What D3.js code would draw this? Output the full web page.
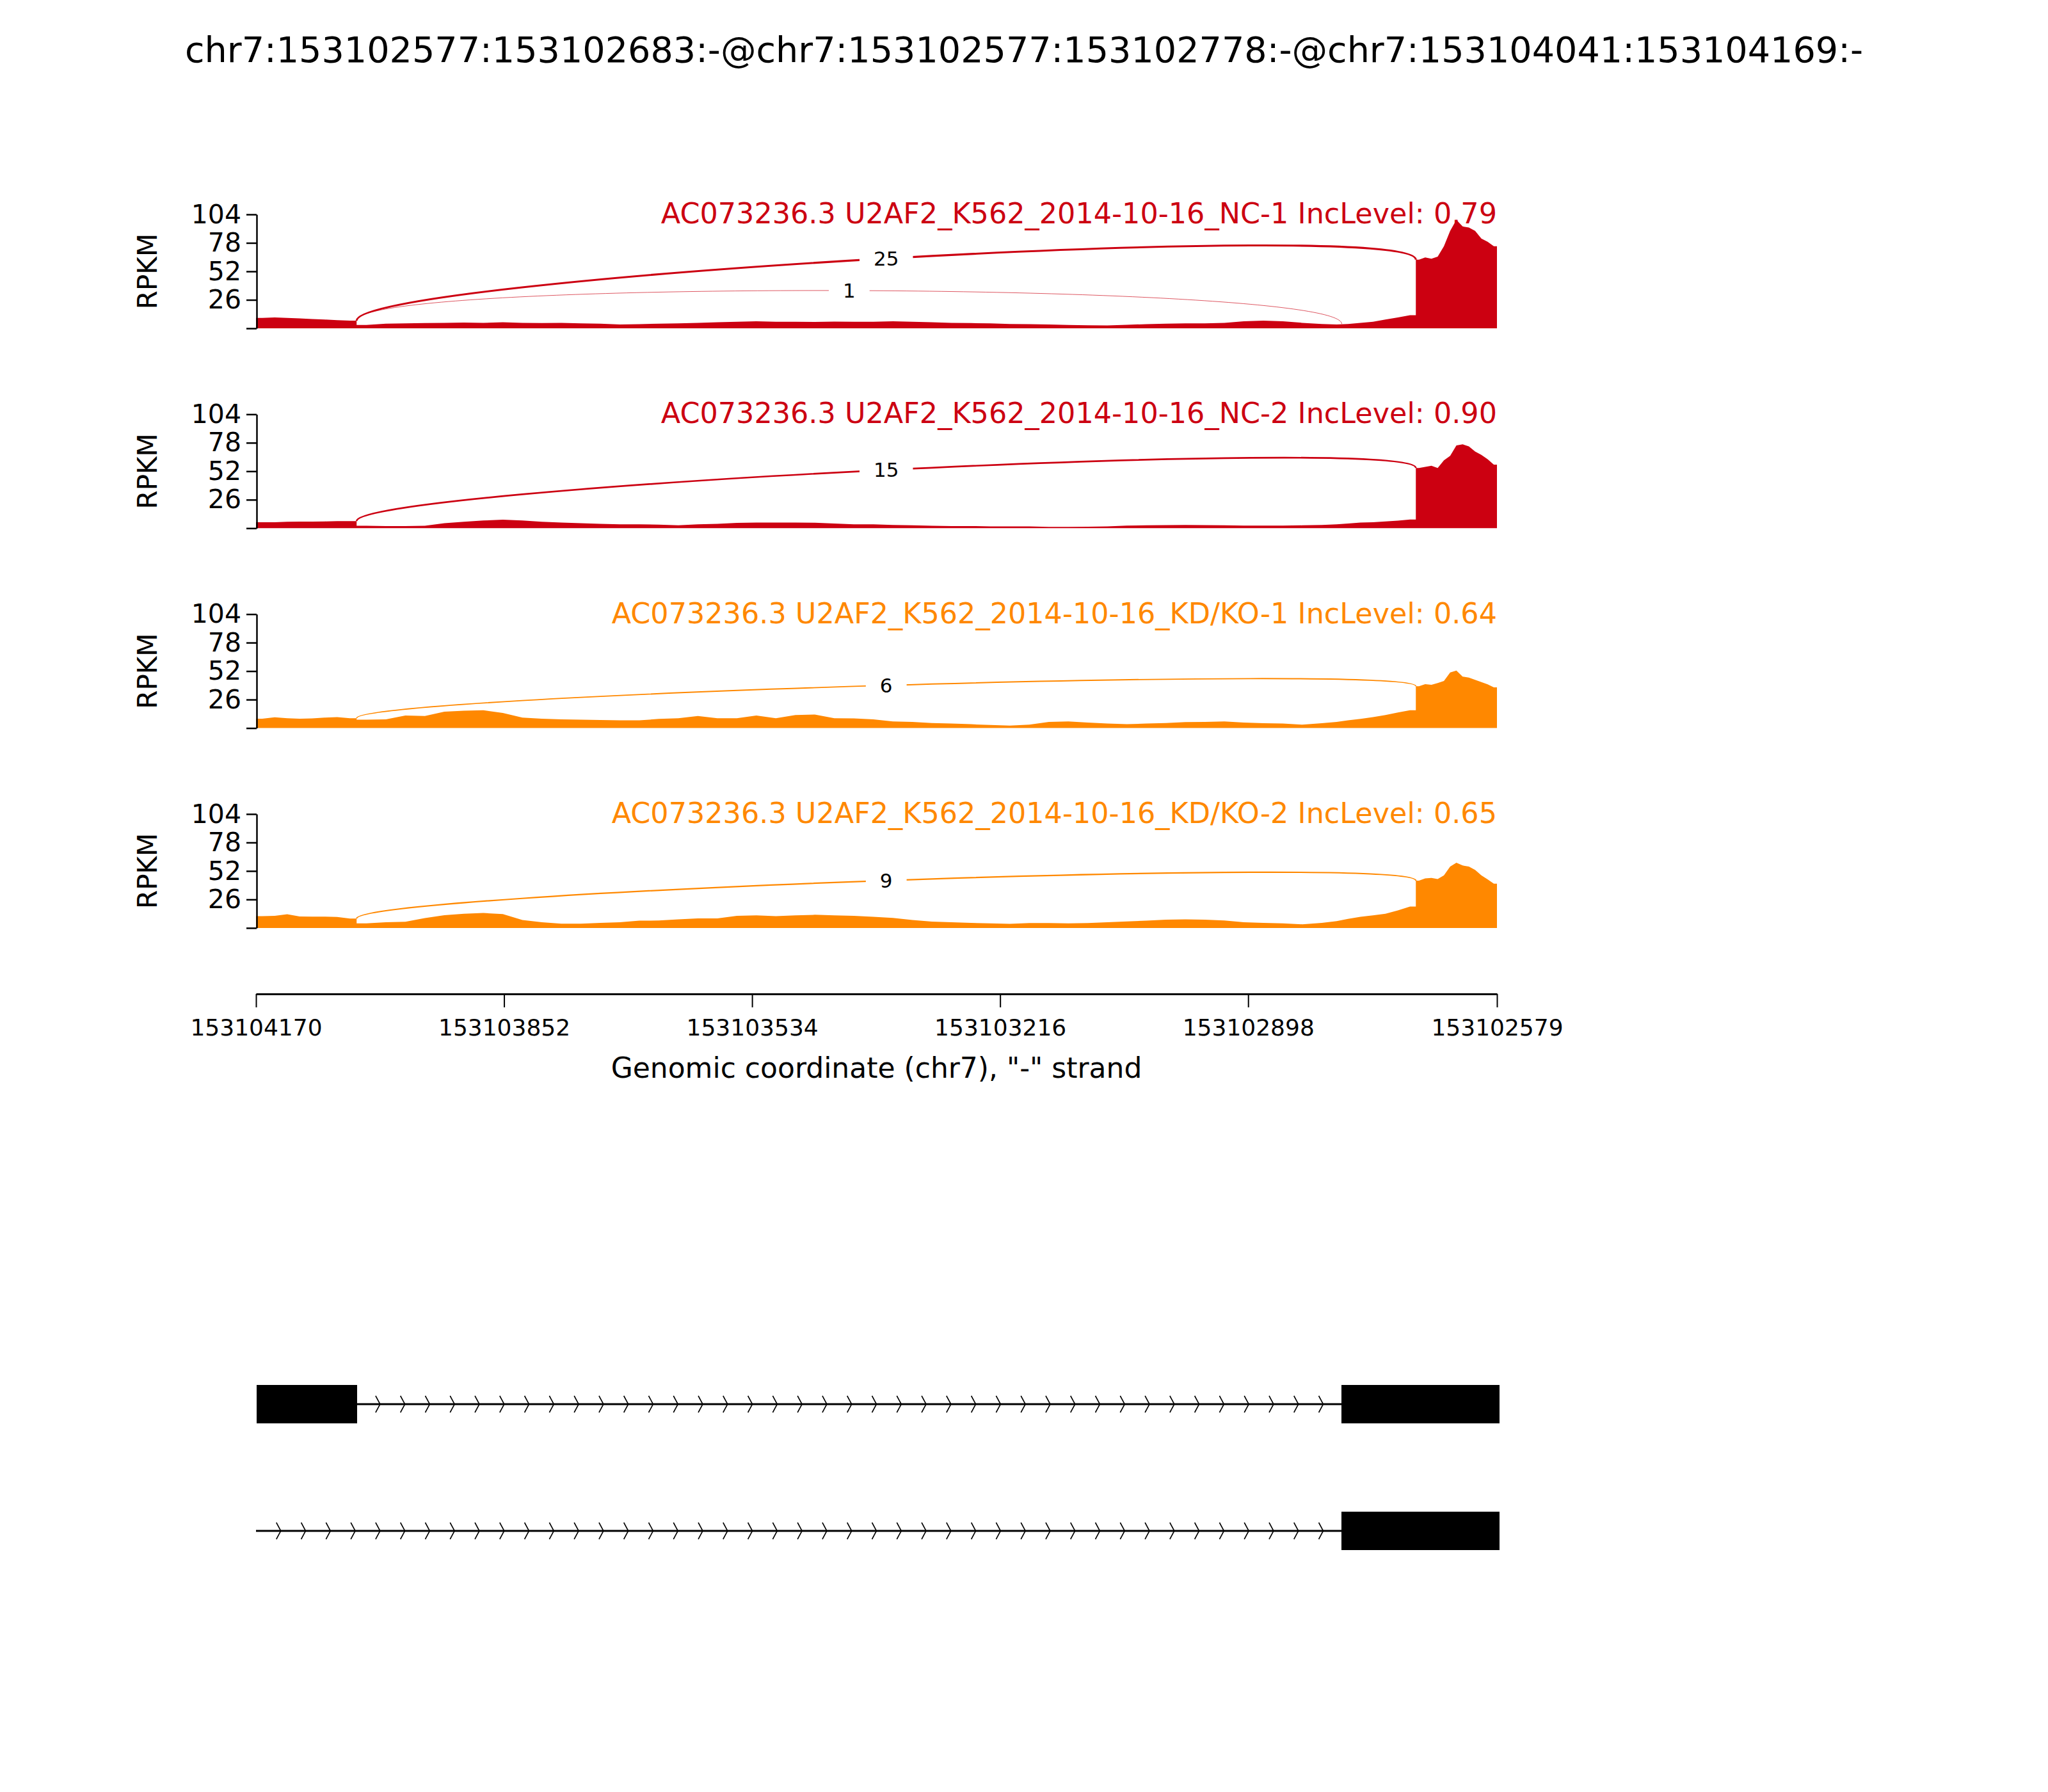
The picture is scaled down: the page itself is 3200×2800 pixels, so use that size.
<!DOCTYPE html>
<html>
<head>
<meta charset="utf-8">
<script src="https://cdn.jsdelivr.net/npm/d3@7"></script>
<style>
  body { margin: 0; background: #fff; }
  text { font-family: "DejaVu Sans", sans-serif; }
</style>
</head>
<body>
<svg id="fig" width="3200" height="2800"></svg>
<script>
'use strict';

const title = 'chr7:153102577:153102683:-@chr7:153102577:153102778:-@chr7:153104041:153104169:-';
const gene_name = 'AC073236.3';
const sample_names = [
  'U2AF2_K562_2014-10-16_NC-1',
  'U2AF2_K562_2014-10-16_NC-2',
  'U2AF2_K562_2014-10-16_KD/KO-1',
  'U2AF2_K562_2014-10-16_KD/KO-2'
];
const inc_levels = ['0.79', '0.90', '0.64', '0.65'];
const sample_colors = ['#CC0011', '#CC0011', '#FF8800', '#FF8800'];

const region_start = 153104170;   // left end of the plot (minus strand)
const region_end = 153102579;
const x_ticks = [153104170, 153103852, 153103534, 153103216, 153102898, 153102579];
const y_ticks = [0, 26, 52, 78, 104];

// coverage bins: offset in bp from region_start
const cov_offsets = [
  0, 16, 32, 48, 64, 80, 96, 112,
  129, 154, 179, 204, 229, 254, 279, 304, 329, 354,
  379, 404, 429, 454, 479, 504, 529, 554, 579, 604,
  629, 654, 679, 704, 729, 754, 779, 804, 829, 854,
  879, 904, 929, 954, 979, 1004, 1029, 1054, 1079, 1104,
  1129, 1154, 1179, 1204, 1229, 1254, 1279, 1304, 1329, 1354,
  1379,
  1392, 1408, 1424, 1440, 1456, 1472,
  1487, 1495, 1503, 1511, 1519, 1527, 1535, 1543, 1551, 1559, 1567, 1575, 1583,
  1591
];
// exon edges where coverage jumps (offsets)
const cov_breaks = [129, 1487];

const cov_nc1 = [
  9.5, 10, 9.5, 9, 8.5, 8, 7.5, 7,
  3, 4.2, 4.5, 4.8, 5, 5.2, 5, 5.5, 5, 4.8,
  5, 4.5, 4.2, 3.5, 3.8, 4.2, 4.5, 5, 5.5, 6,
  6.5, 6, 6, 5.8, 6.2, 6, 6, 6.5, 6, 5.5,
  5, 4.8, 4.5, 4, 3.8, 3.5, 3, 2.8, 2.6, 3.2,
  3.8, 4.2, 4.5, 4.5, 5, 6.5, 7, 6.5, 5, 4,
  3.5,
  4, 5, 6, 8, 10, 12,
  62.6, 64.7, 63.6, 65.5, 75, 89, 99, 93, 92, 89, 82, 79, 75
];
const cov_nc2 = [
  5.5, 5.5, 5.8, 6, 6, 6.2, 6.5, 6.5,
  2.2, 2, 2, 2.2, 4.5, 5.9, 7, 7.8, 7, 5.9,
  5.1, 4.5, 4, 3.6, 3.6, 3.2, 2.6, 3.6, 4, 4.8,
  5.2, 5.2, 5.2, 5, 4.2, 3.6, 3.6, 3, 2.6, 2.2,
  2, 2, 1.6, 1.6, 1.6, 1.2, 1.2, 1.4, 1.6, 2.4,
  2.6, 2.8, 3, 2.8, 2.6, 2.4, 2.4, 2.4, 2.6, 3,
  3.6,
  4.3, 5.2, 5.5, 6.2, 6.9, 7.9,
  55, 56, 57, 55, 61.9, 66, 75.6, 76.6, 74.6, 70, 67, 63, 58
];
const cov_kd1 = [
  8.5, 9.8, 9, 8.5, 8.8, 9.5, 10, 9,
  7.6, 8, 11.5, 11, 15, 15.8, 16.3, 13.8, 9.5, 8.6,
  8, 7.6, 7.4, 7, 7, 8.4, 9, 11, 9, 9,
  11.5, 9, 11.9, 12.3, 9, 8.8, 8, 6, 5.6, 4.6,
  4.1, 3.5, 2.8, 2.2, 3.1, 5.6, 6, 5, 4.1, 3.5,
  4.1, 4.6, 5.4, 5.6, 6, 5, 4.4, 4.1, 3.1, 4.4,
  5.6,
  7, 8.4, 10, 11.9, 14.2, 16.3,
  38.2, 40.1, 39.5, 41.1, 43, 50.8, 52.5, 47, 46, 44, 42, 40, 37.2
];
const cov_kd2 = [
  10.8, 11, 12.5, 10.5, 10.3, 10.3, 10, 8.5,
  4.2, 5.2, 5.7, 9, 11.6, 13, 13.6, 12.6, 7.2, 5.2,
  3.9, 3.9, 4.6, 5.2, 6.6, 6.8, 7.8, 8.7, 8.7, 11,
  11.5, 10.7, 11.5, 12, 11.5, 11, 10.2, 9.2, 7.2, 5.8,
  5.2, 4.6, 4.2, 3.8, 4.4, 4.4, 4.2, 4.4, 5.2, 6,
  6.6, 7.6, 7.8, 7.6, 6.8, 5.2, 4.6, 4.2, 3.3, 4.6,
  6.2,
  8.2, 10.2, 11.5, 13, 16, 19.5,
  43.2, 45.2, 45.7, 44.6, 48, 56, 59.5, 57, 56, 53, 48, 44.3, 40.4
];
const coverages = [cov_nc1, cov_nc2, cov_kd1, cov_kd2];

// junctions: all start at the end of the upstream exon
const junction_start = 153104041;
const junction_ends = [153102683, 153102778];
const junction_counts = [[25, 1], [15, 0], [6, 0], [9, 0]];

// gene model rows
const iso1_exons = [[153104041, 153104169], [153102683, 153102778], [153102577, 153102683]];
const iso1_intron = [153104041, 153102778];
const iso2_exons = [[153102683, 153102778], [153102577, 153102683]];
const iso2_intron = [153104170, 153102778];

// ---------------------------------------------------------------------------

const svg = d3.select('#fig');
const font = '"DejaVu Sans", sans-serif';

const x = d3.scaleLinear().domain([region_start, region_end]).range([400, 2339]);
const off2g = o => region_start - o;

const panel_top0 = 335;
const panel_step = 312.3;
const panel_h = 178;

svg.append('text')
  .attr('x', 1600).attr('y', 97)
  .attr('text-anchor', 'middle')
  .attr('font-size', 55.6)
  .text(title);

function cov_at(values, offset) {
  const i = d3.bisectRight(cov_offsets, offset) - 1;
  return values[Math.max(0, Math.min(values.length - 1, i))];
}

// points through bin middles, with sharp jumps at exon edges
function cov_points(values) {
  const last = cov_offsets[cov_offsets.length - 1];
  const edges = [0, ...cov_breaks, last];
  const pts = [];
  for (let s = 0; s < edges.length - 1; s++) {
    const idx = d3.range(values.length).filter(i => cov_offsets[i] >= edges[s] && cov_offsets[i] < edges[s + 1]);
    pts.push([edges[s], values[idx[0]]]);
    idx.forEach(i => pts.push([(cov_offsets[i] + cov_offsets[i + 1]) / 2, values[i]]));
    pts.push([edges[s + 1], values[idx[idx.length - 1]]]);
  }
  return pts;
}

coverages.forEach((values, si) => {
  const top = panel_top0 + panel_step * si;
  const color = sample_colors[si];
  const y = d3.scaleLinear().domain([0, 104]).range([top + panel_h, top]);
  const g = svg.append('g');

  // coverage
  const area = d3.area()
    .x(d => x(off2g(d[0])))
    .y0(y(0))
    .y1(d => y(d[1]))
    .curve(d3.curveLinear);
  g.append('path').attr('d', area(cov_points(values))).attr('fill', color);

  // junction arcs
  const h = 0.39 * d3.max(values);
  const left_off = region_start - junction_start - 1;
  const labels = [];
  junction_ends.forEach((je, ji) => {
    const count = junction_counts[si][ji];
    if (!count) return;
    const y1 = cov_at(values, left_off);
    const y2 = cov_at(values, region_start - je);
    const x1 = x(junction_start), x2 = x(je);
    const p = d3.path();
    p.moveTo(x1, y(y1));
    p.bezierCurveTo(x1, y(y1 + h), x2, y(y2 + h), x2, y(y2));
    g.append('path')
      .attr('d', p.toString())
      .attr('fill', 'none')
      .attr('stroke', color)
      .attr('stroke-width', Math.log10(count + 1) * 2.2);
    labels.push({ x: (x1 + x2) / 2, y: y((y1 + y2) / 2 + 0.75 * h), count });
  });
  labels.forEach(l => {
    const lg = g.append('g');
    const t = lg.append('text')
      .attr('x', l.x).attr('y', l.y)
      .attr('text-anchor', 'middle')
      .attr('dy', '0.36em')
      .attr('font-size', 31)
      .text(l.count);
    const bb = t.node().getBBox();
    lg.insert('rect', 'text')
      .attr('x', bb.x - 22).attr('y', bb.y - 4)
      .attr('width', bb.width + 44).attr('height', bb.height + 8)
      .attr('fill', '#fff');
  });

  // y axis
  const ax = g.append('g')
    .attr('transform', 'translate(401,0)')
    .call(d3.axisLeft(y).tickValues(y_ticks)
      .tickFormat(d => d === 0 ? '' : d)
      .tickSize(16).tickSizeOuter(0).tickPadding(8));
  ax.select('.domain').attr('stroke-width', 2.5);
  ax.selectAll('.tick line').attr('stroke-width', 2.5);
  ax.selectAll('.tick text').attr('font-size', 41).attr('font-family', font).attr('fill', '#000');

  g.append('text')
    .attr('transform', `translate(245,${top + panel_h / 2}) rotate(-90)`)
    .attr('text-anchor', 'middle')
    .attr('font-size', 42)
    .text('RPKM');

  g.append('text')
    .attr('x', 2339).attr('y', top + 14)
    .attr('text-anchor', 'end')
    .attr('font-size', 44.5)
    .attr('fill', color)
    .text(`${gene_name} ${sample_names[si]} IncLevel: ${inc_levels[si]}`);
});

// genomic x axis
const xa = svg.append('g')
  .attr('transform', 'translate(0,1553)')
  .call(d3.axisBottom(x).tickValues(x_ticks).tickFormat(d3.format('d'))
    .tickSize(21).tickSizeOuter(0).tickPadding(18));
xa.select('.domain').attr('stroke-width', 3);
xa.selectAll('.tick line').attr('stroke-width', 2);
xa.selectAll('.tick text').attr('font-size', 36).attr('font-family', font).attr('fill', '#000');

svg.append('text')
  .attr('x', x((region_start + region_end) / 2)).attr('y', 1684)
  .attr('text-anchor', 'middle')
  .attr('font-size', 44)
  .text('Genomic coordinate (chr7), "-" strand');

// gene models
const arrow_step = (region_start - region_end) / 50;
function draw_isoform(exons, intron, yc) {
  const g = svg.append('g');
  g.append('line')
    .attr('x1', x(intron[0])).attr('x2', x(intron[1]))
    .attr('y1', yc).attr('y2', yc)
    .attr('stroke', '#000').attr('stroke-width', 3);
  d3.range(50).forEach(i => {
    const gpos = region_start - i * arrow_step;
    if (gpos < intron[0] && gpos > intron[1]) {
      const ax = x(gpos);
      g.append('path')
        .attr('d', `M${ax - 7},${yc - 13} L${ax},${yc} L${ax - 7},${yc + 13}`)
        .attr('fill', 'none').attr('stroke', '#000').attr('stroke-width', 1.6);
    }
  });
  exons.forEach(e => {
    g.append('rect')
      .attr('x', Math.floor(x(e[1]))).attr('width', Math.ceil(x(e[0]) - x(e[1])) + 1)
      .attr('y', yc - 30).attr('height', 60)
      .attr('fill', '#000')
      .attr('shape-rendering', 'crispEdges');
  });
}
draw_isoform(iso1_exons, iso1_intron, 2194);
draw_isoform(iso2_exons, iso2_intron, 2392);
</script>
</body>
</html>
